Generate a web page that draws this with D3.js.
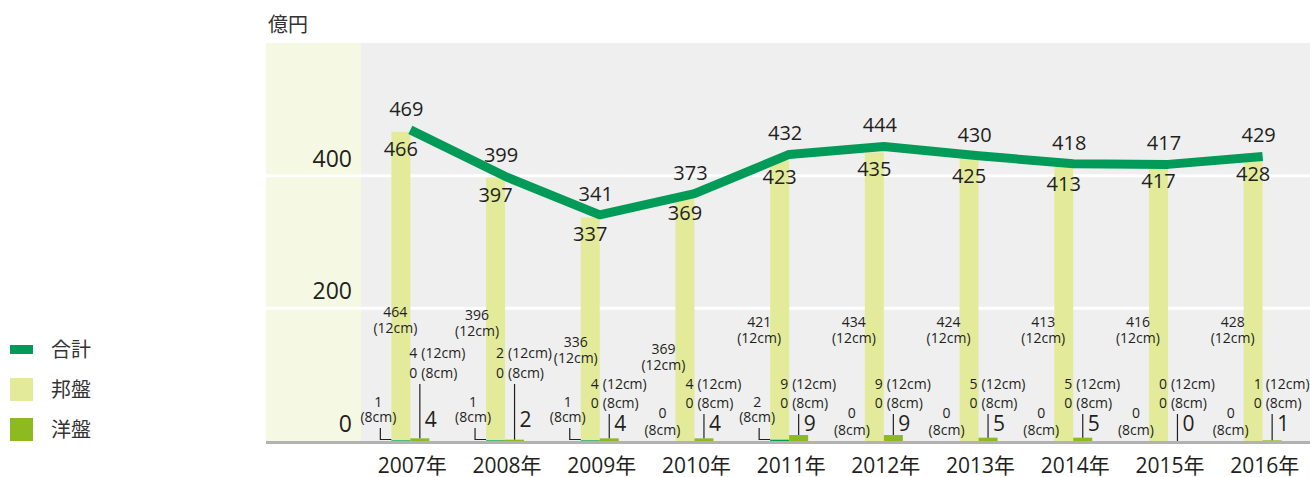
<!DOCTYPE html>
<html>
<head>
<meta charset="utf-8">
<script src="https://cdn.jsdelivr.net/npm/d3@7"></script>
<style>
  body { margin: 0; background: #fff; }
  text { font-family: "Open Sans", "Noto Sans CJK JP", sans-serif; fill: #231f20; }
  .jp { font-family: "Noto Sans CJK JP", sans-serif; fill: #333; }
</style>
</head>
<body>
<div id="chart"></div>
<script>
// data ////////////////////////////////////
var years = ["2007年", "2008年", "2009年", "2010年", "2011年", "2012年", "2013年", "2014年", "2015年", "2016年"];
var total = [469, 399, 341, 373, 432, 444, 430, 418, 417, 429];     // 合計
var domestic = [466, 397, 337, 369, 423, 435, 425, 413, 417, 428];  // 邦盤
var foreign = [4, 2, 4, 4, 9, 9, 5, 5, 0, 1];                        // 洋盤
var dom12 = [464, 396, 336, 369, 421, 434, 424, 413, 416, 428];
var dom8 = [1, 1, 1, 0, 2, 0, 0, 0, 0, 0];
var for12 = [4, 2, 4, 4, 9, 9, 5, 5, 0, 1];
var for8 = [0, 0, 0, 0, 0, 0, 0, 0, 0, 0];
var yTicks = [0, 200, 400];

// hand placed annotation nudges (px) for the small breakdown labels
var noteDx = [15, 2, 6, -1, 0, 0, 0, 0, 0, 0];
var noteDy = [-10, -7, 20, 27, 0, 0, 0, 0, 0, 0];
var forHigh = [true, true, false, false, false, false, false, false, false, false];
var forDx = [8, 0, 0, 0, 0, 0, 0, 0, 0, 0];

var width = 1310,
    height = 477,
    plotLeft = 266,
    bandEnd = 361,
    plotTop = 43,
    plotBottom = 441,
    bw = 19;

var green = "#009b58",
    pale = "#e3eb9b",
    lime = "#8cba1f";

var svg = d3.select("#chart").append("svg")
  .attr("width", width)
  .attr("height", height);

var x = d3.scaleBand().domain(years).range([363, width]);
var y = d3.scaleLinear().domain([0, 600]).range([plotBottom, plotTop]);
function cx(d) { return x(d) + x.bandwidth() / 2; }

// background
svg.append("rect").attr("x", plotLeft).attr("y", plotTop).attr("width", width - plotLeft).attr("height", plotBottom - plotTop).attr("fill", "#efefef");
svg.append("rect").attr("x", plotLeft).attr("y", plotTop).attr("width", bandEnd - plotLeft).attr("height", plotBottom - plotTop).attr("fill", "#f5f8e3");

// grid + y labels
svg.selectAll(".grid").data(yTicks.filter(function (d) { return d > 0; })).enter()
  .append("line")
    .attr("x1", plotLeft).attr("x2", width)
    .attr("y1", function (d) { return y(d); }).attr("y2", function (d) { return y(d); })
    .attr("stroke", "#fff").attr("stroke-width", 3);

svg.selectAll(".ylab").data(yTicks).enter()
  .append("text")
    .attr("x", 352)
    .attr("y", function (d) { return y(d) - 9; })
    .attr("text-anchor", "end")
    .attr("font-size", 23)
    .text(function (d) { return d; });

svg.append("text").attr("class", "jp").attr("x", 268).attr("y", 32).attr("font-size", 20).text("億円");

// bars
var g = svg.selectAll(".yr").data(years).enter().append("g");

g.append("rect")
  .attr("x", function (d) { return cx(d) - bw; })
  .attr("width", bw)
  .attr("y", function (d, i) { return y(domestic[i]); })
  .attr("height", function (d, i) { return y(dom8[i]) - y(domestic[i]); })
  .attr("fill", pale);

g.append("rect")
  .attr("x", function (d) { return cx(d) - bw; })
  .attr("width", bw)
  .attr("y", function (d, i) { return y(dom8[i]); })
  .attr("height", function (d, i) { return y(0) - y(dom8[i]); })
  .attr("fill", "#00a050");

g.append("rect")
  .attr("x", function (d) { return cx(d); })
  .attr("width", bw)
  .attr("y", function (d, i) { return y(for12[i] + for8[i]); })
  .attr("height", function (d, i) { return y(0) - y(for12[i] + for8[i]); })
  .attr("fill", lime);

// baseline
svg.append("rect").attr("x", plotLeft).attr("y", plotBottom).attr("width", width - plotLeft).attr("height", 3).attr("fill", "#b2b2b2");

// total line
var line = d3.line()
  .x(function (d, i) { return cx(years[i]); })
  .y(function (d) { return y(d); });

svg.append("path")
  .datum(total)
  .attr("d", line)
  .attr("fill", "none")
  .attr("stroke", green)
  .attr("stroke-width", 9)
  .attr("stroke-linejoin", "round");

// value labels
g.append("text")
  .attr("x", function (d) { return cx(d) - 4; })
  .attr("y", function (d, i) { return y(total[i]) - 14; })
  .attr("text-anchor", "middle")
  .attr("font-size", 20)
  .text(function (d, i) { return total[i]; });

g.append("text")
  .attr("x", function (d) { return cx(d) - bw / 2; })
  .attr("y", function (d, i) { return y(domestic[i]) + 24; })
  .attr("text-anchor", "middle")
  .attr("font-size", 20)
  .text(function (d, i) { return domestic[i]; });

// breakdown notes /////////////////
var small = 14;

// 邦盤 12cm
g.append("text")
  .attr("x", function (d, i) { return cx(d) - 30 + noteDx[i]; })
  .attr("y", function (d, i) { return 327 + noteDy[i]; })
  .attr("text-anchor", "middle")
  .attr("font-size", small)
  .text(function (d, i) { return dom12[i]; });
g.append("text")
  .attr("x", function (d, i) { return cx(d) - 30 + noteDx[i]; })
  .attr("y", function (d, i) { return 343 + noteDy[i]; })
  .attr("text-anchor", "middle")
  .attr("font-size", small)
  .text("(12cm)");

// 邦盤 8cm
g.append("text")
  .attr("x", function (d) { return cx(d) - 32; })
  .attr("y", function (d, i) { return dom8[i] > 0 ? 407 : 418; })
  .attr("text-anchor", "middle")
  .attr("font-size", small)
  .text(function (d, i) { return dom8[i]; });
g.append("text")
  .attr("x", function (d) { return cx(d) - 32; })
  .attr("y", function (d, i) { return dom8[i] > 0 ? 422 : 435; })
  .attr("text-anchor", "middle")
  .attr("font-size", small)
  .text("(8cm)");
g.filter(function (d, i) { return dom8[i] > 0; })
  .append("path")
  .attr("d", function (d) {
    var c = cx(d);
    return "M" + (c - 30) + ",428V" + (plotBottom - 1.5) + "H" + (c - bw);
  })
  .attr("fill", "none")
  .attr("stroke", "#231f20")
  .attr("stroke-width", 1.2);

// 洋盤 12cm / 8cm
g.append("text")
  .attr("x", function (d, i) { return cx(d) - 1 + forDx[i]; })
  .attr("y", function (d, i) { return forHigh[i] ? 358 : 389; })
  .attr("text-anchor", "end")
  .attr("font-size", small)
  .text(function (d, i) { return for12[i]; });
g.append("text")
  .attr("x", function (d, i) { return cx(d) + 3 + forDx[i]; })
  .attr("y", function (d, i) { return forHigh[i] ? 358 : 389; })
  .attr("font-size", small)
  .text("(12cm)");
g.append("text")
  .attr("x", function (d, i) { return cx(d) - 1 + forDx[i]; })
  .attr("y", function (d, i) { return forHigh[i] ? 378 : 408; })
  .attr("text-anchor", "end")
  .attr("font-size", small)
  .text(function (d, i) { return for8[i]; });
g.append("text")
  .attr("x", function (d, i) { return cx(d) + 3 + forDx[i]; })
  .attr("y", function (d, i) { return forHigh[i] ? 378 : 408; })
  .attr("font-size", small)
  .text("(8cm)");

// 洋盤 leader + total
g.append("line")
  .attr("x1", function (d) { return cx(d) + bw / 2; })
  .attr("x2", function (d) { return cx(d) + bw / 2; })
  .attr("y1", function (d, i) { return forHigh[i] ? 384 : 414; })
  .attr("y2", function (d, i) { return y(foreign[i]); })
  .attr("stroke", "#231f20")
  .attr("stroke-width", 1.2);
g.append("text")
  .attr("x", function (d) { return cx(d) + bw / 2 + 5; })
  .attr("y", function (d, i) { return forHigh[i] ? 427 : 431; })
  .attr("font-size", 21)
  .text(function (d, i) { return foreign[i]; });

// x labels
g.append("text")
  .attr("x", function (d) { return cx(d) + 2; })
  .attr("y", 473)
  .attr("text-anchor", "middle")
  .attr("font-size", 21)
  .text(function (d) { return d.replace("年", ""); })
  .append("tspan")
    .attr("font-family", "Noto Sans CJK JP")
    .text("年");

// legend
var legend = [
  { name: "合計", color: green, y: 345, h: 9 },
  { name: "邦盤", color: pale, y: 378, h: 23 },
  { name: "洋盤", color: lime, y: 418, h: 23 }
];
var lg = svg.selectAll(".lg").data(legend).enter().append("g");
lg.append("rect")
  .attr("x", 10).attr("width", 23)
  .attr("y", function (d) { return d.y; })
  .attr("height", function (d) { return d.h; })
  .attr("fill", function (d) { return d.color; });
lg.append("text")
  .attr("class", "jp")
  .attr("x", 51)
  .attr("y", function (d) { return d.y + d.h / 2 + 7; })
  .attr("font-size", 20)
  .text(function (d) { return d.name; });
</script>
</body>
</html>
